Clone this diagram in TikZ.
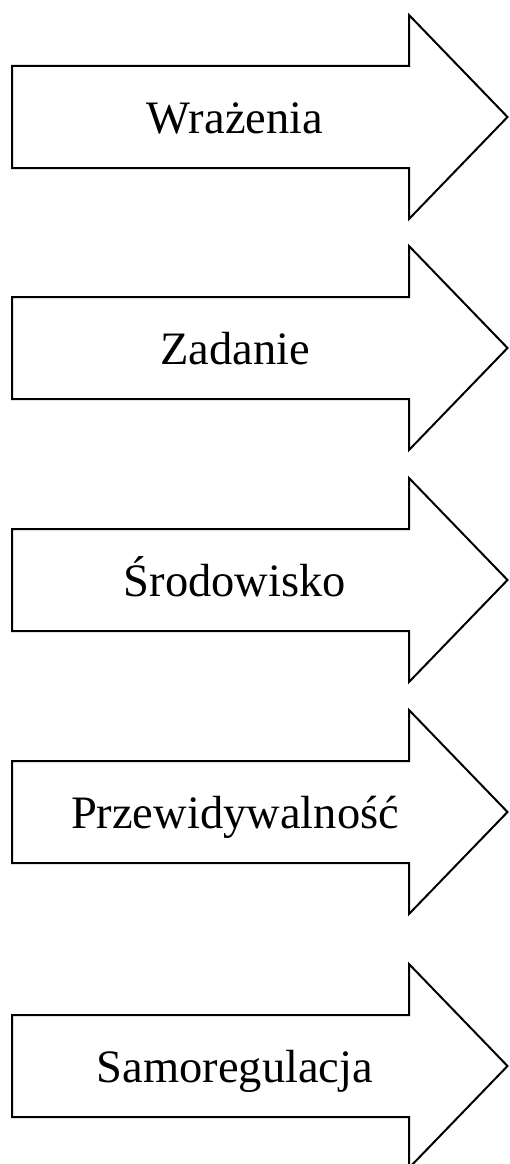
\documentclass[tikz,border=0pt]{standalone}
\usepackage{fontspec}
\setmainfont{Liberation Serif}
\begin{document}
\begin{tikzpicture}[x=1pt,y=-1pt,
  arrowshape/.style={draw=black,line width=2pt,fill=white,line join=miter},
  lbl/.style={anchor=base,inner sep=0pt,font=\fontsize{46.5}{50}\selectfont}]
\useasboundingbox (0,0) rectangle (509,1164);
\foreach \c/\t/\n in {117/Wrażenia/a1,348/Zadanie/a2,580/Środowisko/a3,812/Przewidywalność/a4,1066/Samoregulacja/a5}{
  \draw[arrowshape] (12,\c-51) -- (409,\c-51) -- (409,\c-102) -- (507.5,\c) -- (409,\c+102) -- (409,\c+51) -- (12,\c+51) -- cycle;
  \node[lbl] (\n) at (235,\c+16) {\t};
}
\end{tikzpicture}
\end{document}
